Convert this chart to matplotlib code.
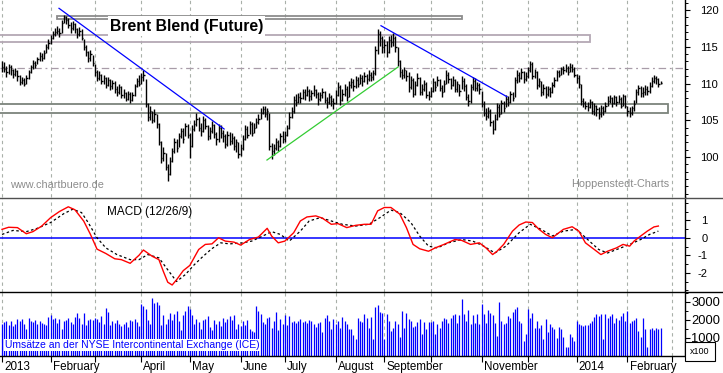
import matplotlib
matplotlib.use("Agg")
import numpy as np
import matplotlib.pyplot as plt
from matplotlib.patches import Rectangle
from matplotlib.lines import Line2D
from matplotlib.transforms import ScaledTranslation

plt.rcParams['font.family'] = ['Liberation Sans', 'DejaVu Sans']

# --- Daten, ein Wert pro Handelstag, Jan 2013 .. Feb 2014 ---
month_names = ["2013", "February", "", "April", "May", "June", "July", "August",
               "September", "", "November", "", "2014", "February", ""]
month_days = [22, 20, 21, 22, 23, 20, 23, 22, 21, 23, 21, 22, 23, 20]

close = [
    112.3, 112.0, 111.6, 112.2, 111.8, 111.3, 111.7, 111.0, 110.2, 110.5, 110.0, 110.8, 111.5, 112.2, 112.8, 112.5, 113.3, 113.8, 113.5, 114.2, 115.0, 115.5,
    116.2, 116.8, 117.0, 117.2, 116.9, 118.2, 119.0, 118.6, 118.0, 117.5, 118.1, 117.4, 116.8, 117.2, 116.2, 115.0, 114.3, 113.5, 114.0, 112.8,
    111.5, 110.8, 111.2, 110.3, 110.8, 109.8, 110.5, 109.6, 110.1, 109.2, 108.8, 109.5, 108.4, 108.7, 107.9, 108.6, 107.8, 108.5, 109.6, 110.4, 110.0,
    110.9, 111.2, 107.2, 105.5, 106.2, 105.0, 105.8, 104.5, 102.0, 99.8, 100.5, 98.7, 97.7, 99.5, 100.8, 102.0, 101.2, 102.8, 103.5, 102.5, 104.2, 103.0,
    101.5, 103.8, 104.5, 105.2, 104.0, 103.5, 105.0, 104.2, 102.8, 103.6, 104.4, 103.1, 102.5, 104.0, 103.2, 102.9, 101.8, 103.0, 102.2, 102.6, 101.5, 102.0, 100.4,
    101.2, 102.5, 103.8, 103.0, 104.5, 103.2, 104.0, 104.8, 105.2, 106.0, 106.5, 105.8, 106.2, 101.5, 100.8, 101.2, 102.0, 101.5, 102.8, 102.4,
    103.0, 104.0, 105.5, 106.2, 107.8, 107.5, 108.2, 108.0, 108.8, 108.5, 109.0, 108.3, 108.7, 109.1, 108.6, 107.9, 108.5, 108.8, 107.8, 107.5, 108.2, 107.6, 107.4,
    108.5, 109.5, 107.8, 108.6, 109.3, 108.2, 109.8, 110.2, 109.6, 110.5, 110.0, 110.8, 110.3, 111.0, 110.6, 111.2, 110.9, 111.4, 114.5, 116.8, 116.2, 115.0,
    115.2, 114.3, 115.9, 115.6, 116.2, 114.9, 113.0, 111.5, 111.2, 111.8, 111.0, 109.5, 110.5, 108.6, 109.8, 110.8, 108.9, 109.3, 110.0, 108.5, 108.3,
    109.0, 110.2, 109.5, 110.5, 109.4, 108.9, 110.0, 111.2, 110.6, 109.8, 110.5, 109.3, 109.9, 109.0, 110.4, 109.6, 108.2, 107.6, 109.5, 110.4, 109.4, 109.8, 109.2,
    107.2, 106.0, 105.6, 106.3, 104.8, 103.8, 105.2, 106.8, 105.9, 107.3, 106.6, 107.9, 107.5, 108.6, 108.0, 110.5, 111.2, 110.8, 111.5, 110.6, 111.0,
    111.8, 112.6, 111.0, 111.6, 109.8, 110.3, 108.8, 109.4, 108.6, 109.2, 108.8, 109.8, 110.5, 111.6, 111.2, 112.0, 111.8, 112.1, 111.6, 112.3, 112.0, 111.2,
    110.8, 109.9, 107.6, 107.3, 107.0, 106.8, 107.5, 106.3, 106.9, 106.5, 105.8, 106.6, 106.2, 107.0, 107.6, 108.0, 107.4, 108.1, 107.5, 107.9, 107.0, 108.3, 107.0,
    106.2, 106.0, 106.6, 107.2, 108.8, 109.4, 108.7, 108.9, 109.3, 109.0, 109.6, 110.4, 110.8, 110.6, 109.9, 110.1,
]
high = [
    113.0, 112.9, 112.4, 112.6, 112.5, 112.0, 112.1, 111.9, 111.2, 110.9, 110.8, 111.2, 111.9, 112.5, 113.2, 113.1, 113.6, 114.3, 114.1, 114.6, 115.4, 116.0,
    116.6, 117.2, 117.6, 117.8, 117.6, 118.7, 119.3, 119.2, 118.9, 118.4, 118.5, 118.2, 117.6, 117.7, 117.4, 116.0, 115.3, 114.4, 114.5, 113.9,
    112.6, 111.8, 111.7, 111.3, 111.2, 110.9, 110.9, 110.6, 110.5, 110.4, 109.7, 109.9, 109.6, 109.3, 108.9, 109.0, 108.8, 108.9, 110.0, 110.8, 111.1,
    111.4, 111.8, 110.6, 107.4, 106.9, 106.3, 106.5, 105.9, 104.6, 102.2, 101.3, 100.6, 99.1, 100.0, 101.2, 102.6, 102.4, 103.3, 104.0, 103.9, 104.6, 104.5,
    103.2, 104.3, 105.1, 106.0, 105.4, 104.6, 105.6, 105.3, 104.3, 104.1, 104.9, 104.5, 103.4, 104.5, 104.4, 103.7, 103.1, 103.6, 103.4, 103.3, 102.8, 102.5, 102.1,
    101.8, 103.0, 104.4, 104.2, 104.9, 104.7, 104.6, 105.3, 105.9, 106.7, 107.0, 106.9, 106.6, 106.0, 101.9, 101.8, 102.6, 102.3, 103.3, 103.5,
    103.6, 104.3, 106.1, 106.8, 108.3, 108.6, 108.7, 108.9, 109.3, 109.2, 109.6, 109.2, 109.1, 109.8, 109.3, 108.8, 108.9, 109.4, 109.0, 108.1, 108.7, 108.5, 108.0,
    109.1, 110.2, 109.8, 109.2, 109.9, 109.6, 110.3, 110.8, 110.6, 111.0, 110.9, 111.3, 111.1, 111.6, 111.3, 111.8, 111.5, 111.9, 115.1, 117.4, 117.1, 116.4,
    116.0, 115.8, 116.4, 116.6, 116.9, 116.5, 115.0, 113.2, 112.0, 112.3, 111.9, 111.5, 111.0, 110.7, 110.3, 111.4, 110.9, 109.9, 110.5, 110.2, 109.0,
    109.5, 110.8, 110.4, 111.0, 110.6, 109.8, 110.5, 111.8, 111.5, 110.8, 111.0, 110.6, 110.4, 110.0, 111.0, 110.7, 109.9, 108.6, 109.9, 110.9, 110.7, 110.2, 110.1,
    109.0, 107.6, 106.6, 106.8, 106.5, 105.0, 105.8, 107.3, 107.2, 107.8, 107.6, 108.4, 108.3, 109.0, 108.9, 110.9, 111.8, 111.6, 112.1, 111.7, 111.5,
    112.3, 113.0, 112.9, 112.0, 111.7, 110.7, 110.4, 109.9, 109.6, 109.7, 109.5, 110.2, 110.9, 111.9, 111.9, 112.3, 112.4, 112.6, 112.4, 112.8, 112.6, 112.2,
    111.3, 111.2, 110.0, 108.0, 107.6, 107.5, 107.9, 107.6, 107.3, 107.1, 106.8, 107.1, 106.9, 107.5, 108.3, 108.4, 108.2, 108.5, 108.3, 108.4, 108.2, 108.6, 108.4,
    107.0, 106.8, 107.0, 107.8, 109.3, 109.8, 109.6, 109.5, 109.8, 109.6, 110.2, 110.9, 111.1, 111.0, 110.8, 110.3,
]
low = [
    111.6, 111.5, 110.9, 111.3, 111.2, 110.8, 111.0, 110.4, 109.8, 109.9, 109.6, 109.9, 110.6, 111.4, 112.0, 112.1, 112.6, 113.1, 113.0, 113.4, 114.1, 114.7,
    115.4, 116.0, 116.5, 116.7, 116.3, 116.9, 118.2, 118.1, 117.6, 116.9, 117.3, 116.9, 116.2, 116.5, 115.9, 114.6, 113.7, 112.9, 113.1, 112.4,
    111.0, 110.3, 110.5, 109.9, 110.0, 109.4, 109.6, 109.1, 109.2, 108.7, 108.3, 108.6, 108.0, 108.0, 107.6, 107.7, 107.4, 107.6, 108.3, 109.5, 109.6,
    110.0, 110.4, 106.8, 104.9, 105.1, 104.6, 104.7, 103.9, 101.7, 99.2, 99.4, 98.2, 96.8, 97.6, 99.3, 100.5, 100.7, 101.3, 102.6, 101.9, 102.8, 102.6,
    99.8, 101.3, 103.6, 104.2, 103.6, 102.9, 103.4, 103.8, 102.3, 102.5, 103.3, 102.6, 101.6, 102.1, 102.6, 102.1, 101.2, 101.5, 101.6, 101.8, 100.9, 100.7, 99.9,
    100.1, 101.0, 102.3, 102.6, 103.1, 102.8, 103.2, 103.9, 104.5, 105.2, 105.9, 105.4, 105.0, 101.0, 99.7, 100.3, 100.9, 100.8, 101.3, 101.9,
    102.1, 102.8, 103.8, 105.3, 106.0, 106.9, 107.3, 107.4, 107.9, 107.8, 108.3, 107.6, 107.8, 108.3, 108.0, 107.1, 107.6, 108.0, 107.3, 106.6, 107.2, 107.0, 106.5,
    107.2, 108.3, 107.1, 107.6, 108.3, 107.6, 108.1, 109.4, 109.0, 109.4, 109.5, 109.9, 109.6, 110.2, 109.9, 110.4, 110.3, 110.5, 111.2, 114.0, 115.1, 114.2,
    114.1, 113.6, 114.2, 115.0, 115.1, 114.3, 112.4, 110.9, 110.6, 110.8, 110.3, 108.9, 109.3, 108.1, 108.4, 109.6, 108.4, 108.5, 109.0, 108.0, 107.8,
    108.2, 108.9, 109.0, 109.6, 109.0, 108.2, 108.9, 110.0, 110.1, 109.3, 109.6, 108.8, 108.9, 108.3, 109.2, 109.0, 107.8, 107.0, 107.3, 109.1, 109.0, 109.0, 108.6,
    106.8, 105.6, 105.1, 105.3, 104.2, 103.1, 103.7, 105.1, 105.4, 105.8, 106.1, 106.8, 107.0, 107.4, 107.6, 108.2, 110.1, 110.2, 110.6, 110.1, 110.3,
    110.7, 111.6, 110.6, 110.8, 109.3, 109.5, 108.3, 108.5, 108.0, 108.3, 108.1, 108.7, 109.5, 110.4, 110.9, 111.2, 111.3, 111.5, 111.2, 111.6, 111.5, 110.9,
    110.1, 109.4, 107.1, 106.8, 106.5, 106.3, 106.6, 105.9, 105.7, 105.6, 105.2, 105.5, 105.7, 106.1, 106.9, 107.3, 106.8, 107.2, 107.0, 107.3, 106.6, 106.9, 106.6,
    105.6, 105.4, 105.7, 106.3, 107.3, 108.4, 108.1, 108.2, 108.4, 108.4, 108.7, 109.5, 110.1, 110.0, 109.5, 110.0,
]
volume = [
    1750, 1900, 1950, 1700, 1950, 1650, 1800, 2050, 1950, 2050, 1750, 1500, 2100, 1950, 1900, 2000, 1800, 1950, 1850, 1800, 1700, 2150,
    2250, 2050, 2100, 1850, 2050, 1500, 1950, 2000, 2100, 1900, 1750, 2150, 2400, 2100, 1800, 2400, 1700, 2000, 2050, 2000,
    2100, 2050, 1900, 2200, 1800, 2650, 2450, 1700, 1950, 1850, 2000, 1800, 1650, 1800, 1900, 1600, 2000, 1950, 2050, 1900, 1650,
    2900, 2800, 2600, 2000, 1800, 3200, 2950, 3000, 2850, 1700, 2300, 1800, 2050, 2400, 2000, 2350, 2500, 1950, 1450, 2300, 2500, 2750,
    2600, 2300, 1750, 2050, 1900, 1500, 2000, 2050, 2200, 1600, 1450, 2000, 1800, 1950, 1650, 2100, 1900, 2050, 2200, 2000, 2250, 1500, 1750,
    1650, 1950, 1700, 2000, 1500, 1400, 1350, 2800, 2500, 2350, 1900, 1800, 2100, 2150, 1550, 1950, 2450, 1450, 2050, 1800,
    2300, 1700, 2200, 1900, 1950, 1850, 1950, 2050, 1900, 1950, 1850, 2000, 1950, 1800, 1600, 1850, 1900, 1350, 2100, 2250, 1950, 1500, 2050,
    1800, 1950, 1580, 2150, 1950, 1750, 1500, 1500, 1150, 970, 2100, 1950, 1900, 2350, 2100, 1550, 2150, 970, 2700, 2850, 2450, 2400,
    950, 2350, 1930, 1400, 1580, 1930, 1750, 1050, 2500, 1580, 2400, 2050, 1930, 1600, 1650, 1880, 2050, 1200, 1880, 1500, 1880,
    1870, 1960, 1210, 1780, 1570, 1930, 2110, 2070, 1840, 2110, 2290, 2320, 1840, 2290, 3150, 2320, 1930, 2560, 1750, 2290, 1840, 2320, 1780,
    2860, 2320, 1840, 2560, 2380, 2290, 1840, 1120, 2970, 1930, 1780, 1840, 2200, 2110, 2430, 2610, 2700, 1930, 1840, 850, 1210,
    2610, 2110, 2380, 1570, 1960, 1530, 1710, 940, 2070, 1350, 1780, 1600, 1480, 990, 1600, 1480, 1060, 520, 520, 1240, 1060, 850,
    1960, 1780, 1710, 1660, 1710, 1710, 1840, 1930, 2140, 2320, 2200, 2320, 940, 2320, 2110, 2200, 2320, 1840, 2110, 2020, 2200, 2380, 1930,
    2500, 1840, 1930, 2020, 2110, 1400, 1060, 2110, 1480, 520, 1480, 1570, 1420, 1530, 1480, 1530,
]

macd_bar = [0, 3, 7, 11, 14, 18, 22, 26, 30, 33, 37, 40, 43, 47, 51, 54, 58, 62, 64, 68,
            71, 73, 75, 77, 79, 82, 85, 89, 92, 95, 98, 101, 105, 108, 112, 116, 120, 122, 125, 128,
            132, 135, 138, 142, 145, 149, 152, 156, 160, 164, 167, 170, 173, 176, 180, 183, 186, 189, 193, 196,
            200, 205, 208, 212, 216, 219, 222, 224, 227, 231, 234, 237, 240, 243, 246, 249, 254, 258, 261, 264,
            268, 271, 274, 278, 281, 284, 286, 289, 292, 295, 297]
macd_line = [0.48, 0.6, 0.58, 0.23, 0.35, 0.67, 1.15, 1.5, 1.77, 1.6, 0.95, 0.2, -0.65, -0.9, -1.2, -1.25, -1.46, -1.0, -0.7, -1.06,
             -1.25, -1.92, -2.54, -2.7, -2.4, -1.88, -1.58, -0.67, -0.38, -0.35, 0.0, -0.19, -0.25, -0.42, -0.1, 0.04, 0.54, 0.1, -0.29, -0.19,
             0.29, 0.96, 1.19, 1.25, 1.12, 0.77, 0.81, 0.58, 0.71, 0.77, 0.77, 1.54, 1.73, 1.73, 1.35, 0.58, -0.38, -0.63, -0.77, -0.58,
             -0.38, -0.1, -0.15, -0.38, -0.29, -0.58, -0.96, -0.77, -0.38, 0.38, 0.73, 0.9, 0.87, 0.48, 0.19, 0.0, 0.48, 0.63, 0.38, -0.29,
             -0.67, -0.96, -0.77, -0.58, -0.38, -0.48, -0.19, 0.1, 0.38, 0.62, 0.67]
signal_bar = [0, 5, 11, 16, 22, 28, 32, 36, 39, 43, 47, 52, 58, 62, 66, 71, 75, 79, 83, 87,
              91, 95, 99, 103, 109, 113, 118, 122, 126, 130, 135, 139, 144, 149, 154, 160, 166, 171, 176, 180,
              185, 189, 193, 197, 202, 208, 213, 218, 223, 228, 234, 239, 244, 249, 254, 260, 265, 270, 274, 280,
              284, 289, 293, 297]
signal_line = [0.19, 0.42, 0.35, 0.54, 0.87, 1.38, 1.63, 1.44, 0.87, 0.0, -0.58, -0.96, -1.25, -1.25, -0.96, -1.15, -1.83, -2.5, -2.1, -1.54,
               -1.06, -0.62, -0.29, -0.35, -0.29, -0.19, 0.1, 0.35, 0.19, -0.19, 0.38, 0.96, 1.15, 0.96, 0.77, 0.67, 0.77, 1.15, 1.58, 1.44,
               0.87, 0.1, -0.48, -0.58, -0.29, -0.1, -0.19, -0.48, -0.87, -0.48, 0.29, 0.77, 0.48, 0.1, 0.38, 0.48, -0.1, -0.67, -0.87, -0.58,
               -0.38, -0.1, 0.19, 0.38]

# eingezeichnete Zonen (Start-Tag, End-Tag, unten, oben) und Trendlinien
zones = [(25, 208, 118.78, 119.18, '#8c8c8c'),
         (-2, 266, 115.69, 116.6, '#b4a8b4'),
         (-2, 301.4, 105.95, 107.17, '#7c847c')]
level_line = 112.11
trend_blue = [((25.8, 120.23), (100.5, 103.81)), ((171.5, 117.86), (228.5, 108.2))]
trend_green = ((119.9, 99.59), (179.2, 112.24))

bars = np.arange(len(close))
month_start = np.concatenate([[0], np.cumsum(month_days)])

W, H = 723, 373
fig = plt.figure(figsize=(W / 100, H / 100), dpi=100)


def px_axes(y0, y1):
    return fig.add_axes([0, 1 - y1 / H, 685 / W, (y1 - y0) / H])


ax_p = px_axes(0, 197)
ax_m = px_axes(197, 292)
ax_v = px_axes(292, 356)

grid_kw = dict(color='#a9b0a9', lw=0.8, ls=(0, (3, 3)), zorder=0)
for ax in (ax_p, ax_m, ax_v):
    ax.set_xlim(-0.9, 309.05)
    for s in ('left', 'top', 'bottom'):
        ax.spines[s].set_visible(False)
    ax.spines['right'].set_linewidth(1.0)
    ax.yaxis.tick_right()
    ax.tick_params(axis='y', which='major', length=3.6, width=0.8, colors='black', labelsize=8)
    ax.tick_params(axis='y', which='minor', length=2.0, width=0.7, colors='black')
    for m in month_start:
        ax.axvline(m, **grid_kw)

# --- Kurs ---
ax_p.set_ylim(94.56, 121.36)
for start, end, lo, hi, col in zones:
    ax_p.add_patch(Rectangle((start, lo), end - start, hi - lo, fill=False,
                             edgecolor=col, lw=1.3, zorder=1))
ax_p.axhline(level_line, color='#a89ca8', lw=0.9, ls=(0, (6, 3, 1.5, 3)), zorder=1)
ax_p.vlines(bars, low, high, color='black', lw=1.0, zorder=3)
ax_p.hlines(close, bars, bars + 0.55, color='black', lw=1.0, zorder=3)
for (x0, y0), (x1, y1) in trend_blue:
    ax_p.plot([x0, x1], [y0, y1], color='#0000ff', lw=0.9, zorder=4)
ax_p.plot([trend_green[0][0], trend_green[1][0]], [trend_green[0][1], trend_green[1][1]],
          color='#33cc33', lw=0.9, zorder=4)
ax_p.set_xticks([])
ax_p.set_yticks([100, 105, 110, 115, 120])
ax_p.set_yticks(np.arange(95, 122, 1), minor=True)
ax_p.tick_params(axis='y', which='major', pad=7.5)
ax_p.text(48.9, 117.82, "Brent Blend (Future)", fontsize=11.3, fontweight='bold',
          va='center', ha='left', zorder=5,
          bbox=dict(facecolor='white', edgecolor='none', pad=1.5))
ax_p.text(10 / 685, 1 - 185 / 197, "www.chartbuero.de", transform=ax_p.transAxes,
          fontsize=7.8, color='#8c8c8c', va='center', ha='left')
ax_p.text(669 / 685, 1 - 184 / 197, "Hoppenstedt-Charts", transform=ax_p.transAxes,
          fontsize=7.8, color='#8c8c8c', va='center', ha='right')

# --- MACD ---
ax_m.set_ylim(-3.10, 2.33)
ax_m.axhline(0, color='#0000ff', lw=1.1, zorder=2)
ax_m.plot(signal_bar, signal_line, color='black', lw=0.9, ls=(0, (2, 2)), zorder=3)
ax_m.plot(macd_bar, macd_line, color='#ff0000', lw=1.0, zorder=4)
ax_m.set_xticks([])
ax_m.set_yticks([1, 0, -1, -2])
ax_m.set_yticklabels(["1", "0", "-1", "-2"])
ax_m.set_yticks(np.arange(-3, 2.5, 0.5), minor=True)
ax_m.tick_params(axis='y', which='major', pad=12.5)
for lab in ax_m.get_yticklabels():
    lab.set_horizontalalignment('right')
ax_m.text(47.5, 1.46, "MACD (12/26/9)", fontsize=8.5, va='center', ha='left')

# --- Umsatz ---
ax_v.set_ylim(0, 3550)
ax_v.vlines(bars, 0, volume, color='#0000ff', lw=0.9, zorder=2)
ax_v.set_yticks([1000, 2000, 3000])
ax_v.set_yticks(np.arange(500, 3501, 500), minor=True)
ax_v.tick_params(axis='y', which='major', pad=0.8, labelsize=9.3)
ax_v.spines['bottom'].set_visible(True)
ax_v.spines['bottom'].set_linewidth(1.0)
ax_v.set_xticks(month_start)
ax_v.set_xticklabels(month_names)
ax_v.tick_params(axis='x', length=4.5, width=0.8, pad=-0.8, labelsize=8.4)
for lab in ax_v.get_xticklabels():
    lab.set_horizontalalignment('left')
    lab.set_transform(lab.get_transform() + ScaledTranslation(1.5 / 72, 0, fig.dpi_scale_trans))
ax_v.text(5 / 685, 11 / 64, "Umsätze an der NYSE Intercontinental Exchange (ICE)",
          transform=ax_v.transAxes, fontsize=7.5, color='#0000ff', va='center', ha='left',
          zorder=5, bbox=dict(facecolor='white', edgecolor='none', pad=0.6))

fig.text(690 / W, 1 - 351.5 / H, "x100", fontsize=6.5, va='center', ha='left',
         bbox=dict(facecolor='white', edgecolor='black', lw=0.8, pad=0.6, boxstyle='square'))

# Trennlinien zwischen den Feldern
fig.add_artist(Line2D([0, 1], [1 - 197.5 / H] * 2, color='#505050', lw=1.0))
fig.add_artist(Line2D([0, 1], [1 - 292 / H] * 2, color='black', lw=1.0))

fig.savefig("out.png", dpi=100)
